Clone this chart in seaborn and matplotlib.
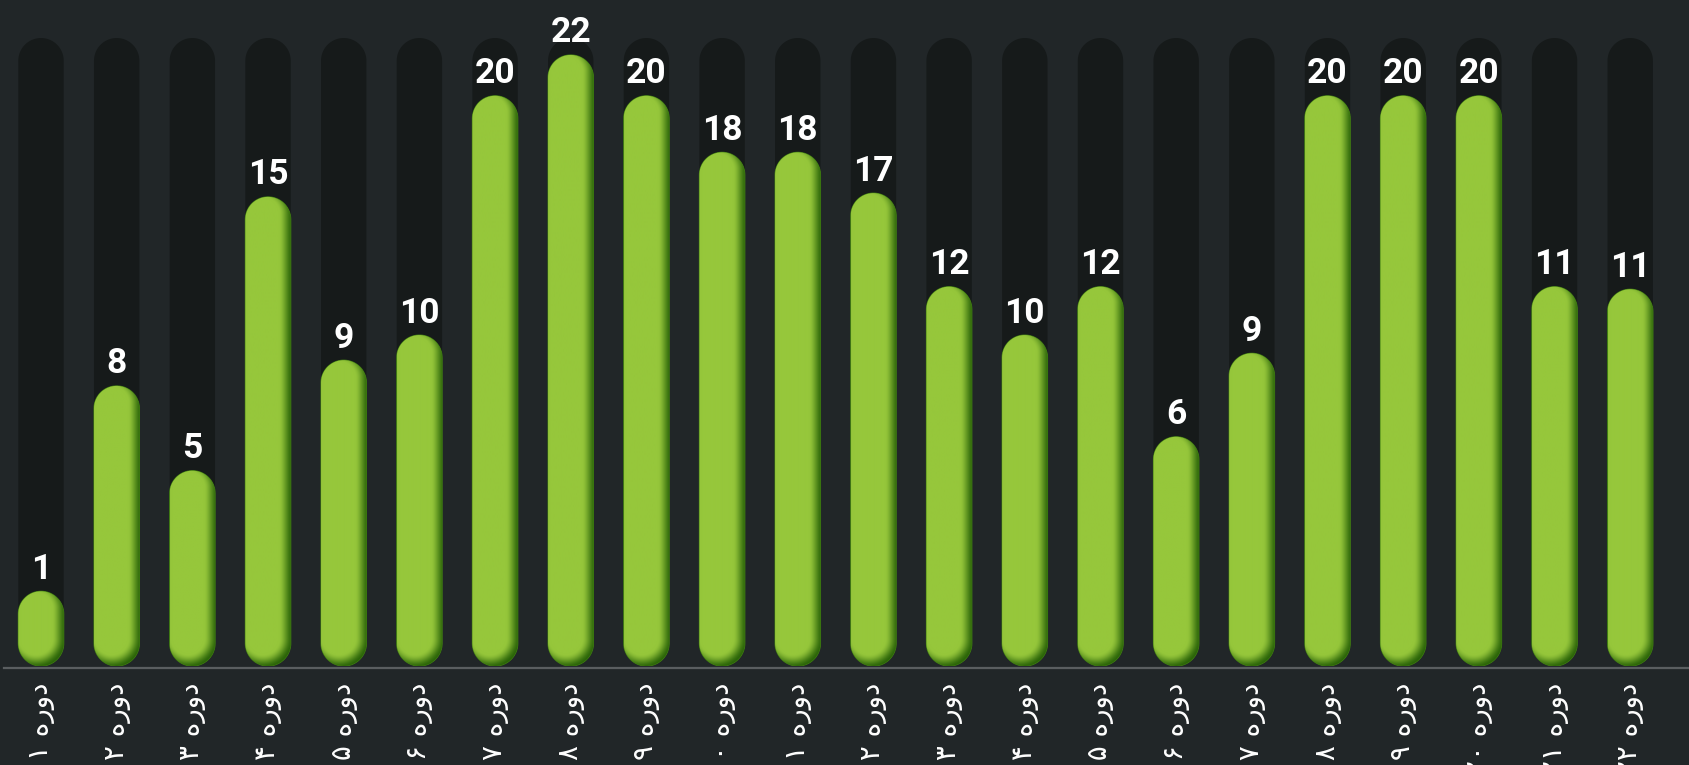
import numpy as np
import pandas as pd
import matplotlib
matplotlib.use('Agg')
import matplotlib.pyplot as plt
import seaborn as sns
from matplotlib.patches import Polygon

# ---------------- data ----------------
categories = ['دوره ۱', 'دوره ۲', 'دوره ۳', 'دوره ۴', 'دوره ۵', 'دوره ۶', 'دوره ۷',
              'دوره ۸', 'دوره ۹', 'دوره ۱۰', 'دوره ۱۱', 'دوره ۱۲', 'دوره ۱۳', 'دوره ۱۴',
              'دوره ۱۵', 'دوره ۱۶', 'دوره ۱۷', 'دوره ۱۸', 'دوره ۱۹', 'دوره ۲۰', 'دوره ۲۱',
              'دوره ۲۲']
value_labels = [1, 8, 5, 15, 9, 10, 20, 22, 20, 18, 18, 17, 12, 10, 12, 6, 9, 20, 20, 20, 11, 11]
# bar heights as drawn (percent of the background track)
bar_heights = [11.9, 44.6, 31.1, 74.7, 48.7, 52.7, 90.8, 97.3, 90.8, 81.8, 81.8, 75.3,
               60.4, 52.7, 60.4, 36.5, 49.8, 90.8, 90.8, 90.8, 60.4, 60.0]
track_max = [100] * len(categories)

BG = '#212628'
TRACK = '#161a1a'
LIGHT = np.array([0x96, 0xc7, 0x3b]) / 255.0
DARK = np.array([0x2a, 0x64, 0x08]) / 255.0

sns.set_theme(style='white')
plt.rcParams['font.family'] = ['DejaVu Sans']

W_PX, H_PX = 1690, 765
fig = plt.figure(figsize=(W_PX / 100, H_PX / 100), dpi=100, facecolor=BG)
ax = fig.add_axes([4 / W_PX, 99 / H_PX, 1686 / W_PX, 628 / H_PX])
ax.set_facecolor(BG)

df = pd.DataFrame({'cat': categories, 'track': track_max, 'value': bar_heights})
sns.barplot(data=df, x='cat', y='track', color=TRACK, width=0.6, saturation=1, ax=ax)
n_track = len(ax.patches)
sns.barplot(data=df, x='cat', y='value', color='#96c73b', width=0.6, saturation=1, ax=ax)

for sp in ['top', 'right', 'left']:
    ax.spines[sp].set_visible(False)
ax.spines['bottom'].set_position(('outward', 1.5))
ax.spines['bottom'].set_color('#5a5e60')
ax.spines['bottom'].set_linewidth(1.6)

XLIM = (-0.489, 21.79)
YLIM = (0, 100)
ax.set_xlim(*XLIM)
ax.set_ylim(*YLIM)

p0 = ax.transData.transform((0, 0))
p1 = ax.transData.transform((1, 1))
sx, sy = p1[0] - p0[0], p1[1] - p0[1]


def stadium(x0, w, h, ry, n=40):
    rx = w / 2
    cx = x0 + rx
    t_top = np.linspace(0, np.pi, n)
    top = np.column_stack([cx + rx * np.cos(t_top), h - ry + ry * np.sin(t_top)])
    t_bot = np.linspace(np.pi, 2 * np.pi, n)
    bot = np.column_stack([cx + rx * np.cos(t_bot), ry + ry * np.sin(t_bot)])
    return np.vstack([top, bot])


patches = list(ax.patches)
for k, p in enumerate(patches):
    x0, w, h = p.get_x(), p.get_width(), p.get_height()
    p.set_visible(False)
    ry = (w / 2) * sx / sy
    verts = stadium(x0, w, h, ry)
    if k < n_track:
        poly = Polygon(verts, closed=True, facecolor=TRACK, edgecolor='none', zorder=2)
        ax.add_patch(poly)
    else:
        poly = Polygon(verts, closed=True, facecolor='#96c73b', edgecolor='#3f7d12',
                       linewidth=0.8, zorder=3)
        ax.add_patch(poly)
        Wp = int(round(w * sx))
        Hp = int(round(h * sy))
        xs = np.arange(Wp) + 0.5
        ys = np.arange(Hp) + 0.5
        X, Y = np.meshgrid(xs, ys)
        r = Wp / 2
        ox, oy, blur = 5.0, 5.0, 7.0
        qx, qy = X + ox, Y - oy
        cy = np.clip(qy, r, Hp - r)
        d = np.sqrt((qx - r) ** 2 + (qy - cy) ** 2) - r
        t = np.clip((d + blur) / (2 * blur), 0, 1)
        s = t * t * (3 - 2 * t)
        img = LIGHT[None, None, :] * (1 - s[..., None]) + DARK[None, None, :] * s[..., None]
        im = ax.imshow(img, extent=(x0, x0 + w, 0, h), origin='lower', aspect='auto',
                       interpolation='bilinear', zorder=4)
        im.set_clip_path(poly)

ax.set_xlim(*XLIM)
ax.set_ylim(*YLIM)

# value labels
for i, (hv, lab) in enumerate(zip(bar_heights, value_labels)):
    ax.annotate(str(lab), xy=(i, hv), xytext=(0, 9), textcoords='offset points',
                ha='center', va='baseline', color='white', fontsize=25.5,
                fontweight='bold', family=['Roboto', 'DejaVu Sans'], zorder=6,
                annotation_clip=False)


def visual(s):
    # matplotlib lays text out left-to-right; build the right-to-left visual order
    word, num = s.split(' ')
    return num + ' ' + word[::-1]


ax.tick_params(axis='x', length=0, pad=10.5, labelcolor='white', labelsize=20,
               labelrotation=90, bottom=True)
ax.set_xticks(range(len(categories)))
ax.set_xticklabels([visual(c) for c in categories], rotation=90, color='white',
                   fontsize=20, family=['DejaVu Sans'])
ax.tick_params(axis='y', left=False, labelleft=False)
ax.set_xlabel('')
ax.set_ylabel('')
ax.grid(False)

fig.savefig('out.png', dpi=100, facecolor=BG)
